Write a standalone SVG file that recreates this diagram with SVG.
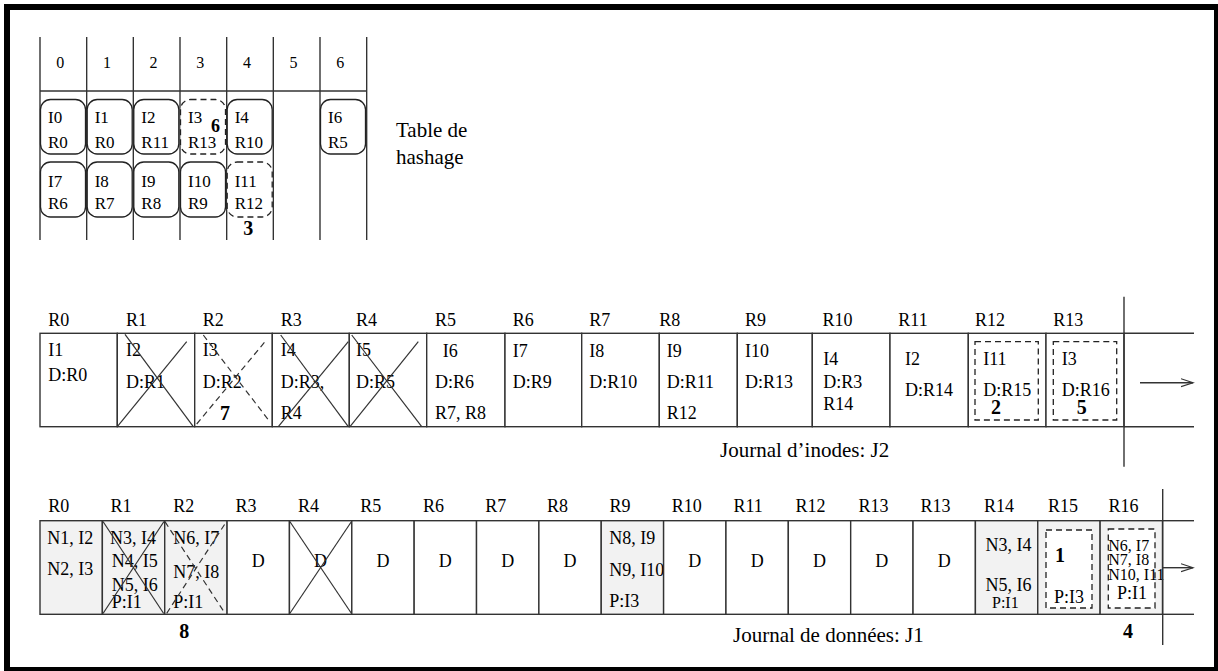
<svg xmlns="http://www.w3.org/2000/svg" width="1218" height="671" viewBox="0 0 1218 671" font-family="'Liberation Serif', 'Times New Roman', Times, 'Nimbus Roman', 'DejaVu Serif', serif">
<style>
text{font-family:"Liberation Serif","Times New Roman",Times,"Nimbus Roman","DejaVu Serif",serif;font-size:18px;fill:#000}
.hd{font-size:16px;text-anchor:middle}
.hb{font-size:17px}
.b{font-weight:bold;font-size:20px}
.lbl{font-size:21px}
.mid{text-anchor:middle}
.sm{font-size:16px}
.ln{stroke:#333;stroke-width:1.4;fill:none}
.cell{fill:#fff;stroke:#333;stroke-width:1.4}
.g{fill:#f2f2f2}
.box{fill:#fff;stroke:#222;stroke-width:1.3}
.dash{stroke-dasharray:6 4}
.x{stroke:#333;stroke-width:1.2;fill:none}
</style>
<defs>
<marker id="arr" markerUnits="userSpaceOnUse" markerWidth="14" markerHeight="10" refX="12" refY="5" orient="auto">
<path d="M0,1 L12,5 L0,9" fill="none" stroke="#333" stroke-width="1.2"/>
</marker>
</defs>
<rect x="7" y="7" width="1210" height="663" fill="#fff" stroke="#000" stroke-width="6"/>

<g id="hash-table">
<g class="ln" stroke="#111">
<line x1="40" y1="37" x2="40" y2="240"/>
<line x1="86.67" y1="37" x2="86.67" y2="240"/>
<line x1="133.33" y1="37" x2="133.33" y2="240"/>
<line x1="180" y1="37" x2="180" y2="240"/>
<line x1="226.67" y1="37" x2="226.67" y2="240"/>
<line x1="273.33" y1="37" x2="273.33" y2="240"/>
<line x1="320" y1="37" x2="320" y2="240"/>
<line x1="366.67" y1="37" x2="366.67" y2="240"/>
<line x1="40" y1="91" x2="366.67" y2="91"/>
</g>
<text class="hd" x="60.3" y="68">0</text>
<text class="hd" x="107" y="68">1</text>
<text class="hd" x="153.6" y="68">2</text>
<text class="hd" x="200.3" y="68">3</text>
<text class="hd" x="247" y="68">4</text>
<text class="hd" x="293.6" y="68">5</text>
<text class="hd" x="340.3" y="68">6</text>
</g>
<g id="hb-0-0"><rect class="box" x="40.5" y="99.5" width="45" height="54.5" rx="10"/><text class="hb" x="48" y="123">I0</text><text class="hb" x="48" y="147.5">R0</text></g>
<g id="hb-1-0"><rect class="box" x="87.2" y="99.5" width="45" height="54.5" rx="10"/><text class="hb" x="94.7" y="123">I1</text><text class="hb" x="94.7" y="147.5">R0</text></g>
<g id="hb-2-0"><rect class="box" x="133.8" y="99.5" width="45" height="54.5" rx="10"/><text class="hb" x="141.3" y="123">I2</text><text class="hb" x="141.3" y="147.5">R11</text></g>
<g id="hb-3-0"><rect class="box dash" x="180.5" y="99.5" width="45" height="54.5" rx="10"/><text class="hb" x="188" y="123">I3</text><text class="hb" x="188" y="147.5">R13</text><text class="b" x="211" y="131.7" style="font-size:18px">6</text></g>
<g id="hb-4-0"><rect class="box" x="227.2" y="99.5" width="45" height="54.5" rx="10"/><text class="hb" x="234.7" y="123">I4</text><text class="hb" x="234.7" y="147.5">R10</text></g>
<g id="hb-6-0"><rect class="box" x="320.5" y="99.5" width="45" height="54.5" rx="10"/><text class="hb" x="328" y="123">I6</text><text class="hb" x="328" y="147.5">R5</text></g>
<g id="hb-0-1"><rect class="box" x="40.5" y="162" width="45" height="55" rx="10"/><text class="hb" x="48" y="186.5">I7</text><text class="hb" x="48" y="209">R6</text></g>
<g id="hb-1-1"><rect class="box" x="87.2" y="162" width="45" height="55" rx="10"/><text class="hb" x="94.7" y="186.5">I8</text><text class="hb" x="94.7" y="209">R7</text></g>
<g id="hb-2-1"><rect class="box" x="133.8" y="162" width="45" height="55" rx="10"/><text class="hb" x="141.3" y="186.5">I9</text><text class="hb" x="141.3" y="209">R8</text></g>
<g id="hb-3-1"><rect class="box" x="180.5" y="162" width="45" height="55" rx="10"/><text class="hb" x="188" y="186.5">I10</text><text class="hb" x="188" y="209">R9</text></g>
<g id="hb-4-1"><rect class="box dash" x="227.2" y="162" width="45" height="55" rx="10"/><text class="hb" x="234.7" y="186.5">I11</text><text class="hb" x="234.7" y="209">R12</text><text class="b" x="243.3" y="235">3</text></g>
<g id="hash-label"><text class="lbl" x="396" y="137">Table de</text><text class="lbl" x="396" y="164">hashage</text></g>

<g id="journal-j2">
<g id="j2-headers">
<text x="48.3" y="326">R0</text><text x="126" y="326">R1</text><text x="202.7" y="326">R2</text><text x="280.7" y="326">R3</text><text x="356" y="326">R4</text><text x="435" y="326">R5</text><text x="512.7" y="326">R6</text><text x="589.3" y="326">R7</text><text x="659.3" y="326">R8</text><text x="745" y="326">R9</text><text x="822.5" y="326">R10</text><text x="898.3" y="326">R11</text><text x="975" y="326">R12</text><text x="1053.3" y="326">R13</text>
</g>
<g id="j2-r0"><rect class="cell" x="40" y="333.3" width="77.3" height="93.4"/><text x="48.3" y="356">I1</text><text x="48.3" y="381">D:R0</text></g>
<g id="j2-r1"><rect class="cell" x="117.3" y="333.3" width="77.4" height="93.4"/><text x="126" y="356">I2</text><text x="126" y="388">D:R1</text><line class="x" x1="125" y1="334.3" x2="193.3" y2="426.7"/><line class="x" x1="117.3" y1="426.7" x2="186.7" y2="341.7"/></g>
<g id="j2-r2"><rect class="cell" x="194.7" y="333.3" width="77.6" height="93.4"/><text x="202.7" y="356">I3</text><text x="202.7" y="388">D:R2</text><text class="b" x="220" y="420">7</text><line class="x dash" x1="203.3" y1="335" x2="270" y2="422"/><line class="x dash" x1="196.7" y1="424" x2="265" y2="341.7"/></g>
<g id="j2-r3"><rect class="cell" x="272.3" y="333.3" width="77" height="93.4"/><text x="280.7" y="356">I4</text><text x="280.7" y="388">D:R3,</text><text x="280.7" y="418.5">R4</text><line class="x" x1="280.7" y1="335" x2="348.3" y2="426.7"/><line class="x" x1="278.3" y1="426.7" x2="348.3" y2="341.7"/></g>
<g id="j2-r4"><rect class="cell" x="349.3" y="333.3" width="77.4" height="93.4"/><text x="356" y="356">I5</text><text x="356" y="388">D:R5</text><line class="x" x1="351.7" y1="335" x2="421.7" y2="426.7"/><line class="x" x1="350" y1="426.7" x2="418.3" y2="341.7"/></g>
<g id="j2-r5"><rect class="cell" x="426.7" y="333.3" width="78.3" height="93.4"/><text x="442.7" y="356.5">I6</text><text x="435" y="388">D:R6</text><text x="435" y="419">R7, R8</text></g>
<g id="j2-r6"><rect class="cell" x="505" y="333.3" width="76.7" height="93.4"/><text x="512.7" y="356.5">I7</text><text x="512.7" y="388">D:R9</text></g>
<g id="j2-r7"><rect class="cell" x="581.7" y="333.3" width="77.6" height="93.4"/><text x="589.3" y="356.5">I8</text><text x="589.3" y="388">D:R10</text></g>
<g id="j2-r8"><rect class="cell" x="659.3" y="333.3" width="78" height="93.4"/><text x="666.7" y="356.5">I9</text><text x="666.7" y="388">D:R11</text><text x="666.7" y="419">R12</text></g>
<g id="j2-r9"><rect class="cell" x="737.3" y="333.3" width="75" height="93.4"/><text x="745" y="356.5">I10</text><text x="745" y="388">D:R13</text></g>
<g id="j2-r10"><rect class="cell" x="812.3" y="333.3" width="77.7" height="93.4"/><text x="823.3" y="365">I4</text><text x="823.3" y="388">D:R3</text><text x="823.3" y="409.5">R14</text></g>
<g id="j2-r11"><rect class="cell" x="890" y="333.3" width="78.3" height="93.4"/><text x="905" y="365">I2</text><text x="905" y="396">D:R14</text></g>
<g id="j2-r12"><rect class="cell" x="968.3" y="333.3" width="77.7" height="93.4"/><rect class="box dash" x="975" y="341.7" width="63.3" height="78.3"/><text x="983.3" y="365">I11</text><text x="983.3" y="396">D:R15</text><text class="b" x="991" y="414">2</text></g>
<g id="j2-r13"><rect class="cell" x="1046" y="333.3" width="78" height="93.4"/><rect class="box dash" x="1053.3" y="341.7" width="63.4" height="78.3"/><text x="1061.7" y="365">I3</text><text x="1061.7" y="396">D:R16</text><text class="b" x="1076.7" y="414">5</text></g>
<g class="ln" stroke="#555"><line x1="1124" y1="333.3" x2="1194" y2="333.3"/><line x1="1124" y1="426.7" x2="1194" y2="426.7"/><line x1="1124" y1="296.7" x2="1124" y2="466.7"/></g>
<text class="lbl" x="720" y="457">Journal d’inodes: J2</text>
</g>

<g id="journal-j1">
<g id="j1-headers">
<text x="48.3" y="511.7">R0</text><text x="110.5" y="511.7">R1</text><text x="173.2" y="511.7">R2</text><text x="235.4" y="511.7">R3</text><text x="298" y="511.7">R4</text><text x="360.3" y="511.7">R5</text><text x="423" y="511.7">R6</text><text x="485.3" y="511.7">R7</text><text x="547" y="511.7">R8</text><text x="609.5" y="511.7">R9</text><text x="671.8" y="511.7">R10</text><text x="733.5" y="511.7">R11</text><text x="795.5" y="511.7">R12</text><text x="858.5" y="511.7">R13</text><text x="920.5" y="511.7">R13</text><text x="984" y="511.7">R14</text><text x="1048" y="511.7">R15</text><text x="1108.5" y="511.7">R16</text>
</g>
<g id="j1-r0"><rect class="cell g" x="40" y="520.7" width="62.36" height="93.6"/><text x="47.3" y="544">N1, I2</text><text x="47.3" y="575">N2, I3</text></g>
<g id="j1-r1"><rect class="cell g" x="102.36" y="520.7" width="62.36" height="93.6"/><text x="110" y="544">N3, I4</text><text x="111.7" y="567.3">N4, I5</text><text x="111.7" y="590.7">N5, I6</text><text x="111.7" y="608.3">P:I1</text><line class="x" x1="103" y1="521.5" x2="163.7" y2="613.5"/><line class="x" x1="103" y1="613.5" x2="164" y2="521.5"/></g>
<g id="j1-r2"><rect class="cell g" x="164.72" y="520.7" width="62.36" height="93.6"/><text x="173.3" y="544">N6, I7</text><text x="173.3" y="578">N7, I8</text><text x="173.3" y="608.3">P:I1</text><line class="x dash" x1="165" y1="521.7" x2="225" y2="613.3"/><line class="x dash" x1="166.7" y1="613.3" x2="226" y2="522.3"/></g>
<g id="j1-r3"><rect class="cell" x="227.08" y="520.7" width="62.36" height="93.6"/><text class="mid" x="258.26" y="567">D</text></g>
<g id="j1-r4"><rect class="cell" x="289.44" y="520.7" width="62.36" height="93.6"/><text class="mid" x="320.62" y="567">D</text><line class="x" x1="289.8" y1="521.5" x2="351.5" y2="613.5"/><line class="x" x1="289.8" y1="613.5" x2="351.5" y2="521.5"/></g>
<g id="j1-r5"><rect class="cell" x="351.8" y="520.7" width="62.36" height="93.6"/><text class="mid" x="382.98" y="567">D</text></g>
<g id="j1-r6"><rect class="cell" x="414.16" y="520.7" width="62.36" height="93.6"/><text class="mid" x="445.34" y="567">D</text></g>
<g id="j1-r7"><rect class="cell" x="476.52" y="520.7" width="62.36" height="93.6"/><text class="mid" x="507.7" y="567">D</text></g>
<g id="j1-r8"><rect class="cell" x="538.88" y="520.7" width="62.36" height="93.6"/><text class="mid" x="570.06" y="567">D</text></g>
<g id="j1-r9"><rect class="cell g" x="601.24" y="520.7" width="62.36" height="93.6" stroke="#111"/><text x="609.3" y="544">N8, I9</text><text x="609.3" y="575.7">N9, I10</text><text x="609.3" y="607.3">P:I3</text></g>
<g id="j1-r10"><rect class="cell" x="663.6" y="520.7" width="62.36" height="93.6"/><text class="mid" x="694.78" y="567">D</text></g>
<g id="j1-r11"><rect class="cell" x="725.96" y="520.7" width="62.36" height="93.6"/><text class="mid" x="757.14" y="567">D</text></g>
<g id="j1-r12"><rect class="cell" x="788.32" y="520.7" width="62.36" height="93.6"/><text class="mid" x="819.5" y="567">D</text></g>
<g id="j1-r13a"><rect class="cell" x="850.68" y="520.7" width="62.36" height="93.6"/><text class="mid" x="881.86" y="567">D</text></g>
<g id="j1-r13b"><rect class="cell" x="913.04" y="520.7" width="62.36" height="93.6"/><text class="mid" x="944.22" y="567">D</text></g>
<g id="j1-r14"><rect class="cell g" x="975.4" y="520.7" width="62.36" height="93.6" stroke="#111"/><text x="985.5" y="551">N3, I4</text><text x="985.5" y="590.5">N5, I6</text><text class="sm" x="992" y="607.5">P:I1</text></g>
<g id="j1-r15"><rect class="cell g" x="1037.76" y="520.7" width="62.36" height="93.6"/><rect class="box dash" x="1046" y="530" width="46" height="78" fill="none"/><text class="b" x="1055" y="562">1</text><text x="1054" y="603">P:I3</text></g>
<g id="j1-r16"><rect class="cell g" x="1100.12" y="520.7" width="62.36" height="93.6"/><rect class="box dash" x="1108.3" y="529" width="46.7" height="79" fill="none"/><text class="sm" x="1108.3" y="551">N6, I7</text><text class="sm" x="1108.3" y="565">N7, I8</text><text class="sm" x="1108.3" y="580">N10, I11</text><text x="1117" y="598.5">P:I1</text></g>
<g class="ln" stroke="#555"><line x1="1162.48" y1="520.7" x2="1194" y2="520.7"/><line x1="1162.48" y1="614.3" x2="1194" y2="614.3"/><line x1="1162.7" y1="489" x2="1162.7" y2="645"/></g>
<text class="b" x="179.3" y="638.3">8</text>
<text class="b" x="1123" y="638">4</text>
<text class="lbl" x="733" y="642.3">Journal de données: J1</text>
</g>

<g id="connectors">
<line class="ln" x1="1140" y1="382.7" x2="1193" y2="382.7" marker-end="url(#arr)"/>
<line class="ln" x1="1163" y1="567.7" x2="1193" y2="567.7" marker-end="url(#arr)"/>
</g>
</svg>
